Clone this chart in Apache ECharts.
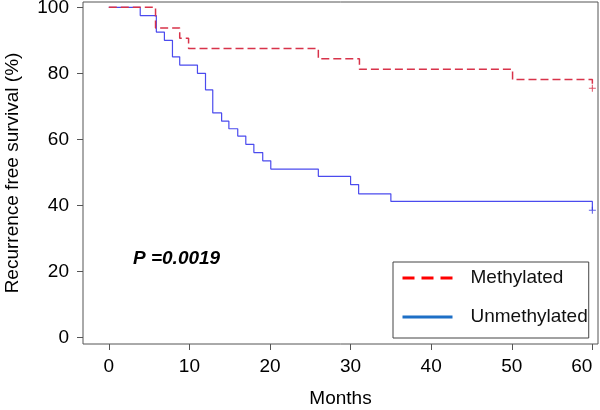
<!DOCTYPE html>
<html>
<head>
<meta charset="utf-8">
<title>Recurrence free survival</title>
<script src="https://cdn.jsdelivr.net/npm/echarts@6/dist/echarts.min.js"></script>
<style>
	html,body{margin:0;padding:0;background:#fff;}
	#main{width:600px;height:410px;}
</style>
</head>
<body>
<div id="main"></div>
<script>
// Kaplan-Meier steps, value = survival (%) after the drop at that month
var metMonths = [0, 5.8, 8.8, 9.9, 26, 31.1, 50.1, 60];
var metSurvival = [100, 93.75, 90.6, 87.5, 84.4, 81.25, 78.1, 75.5];
var unmetMonths = [0, 3.9, 5.9, 6.9, 7.9, 8.8, 11, 12, 12.9, 14, 14.9, 16, 17, 18, 19.1, 20.1, 26, 30, 31, 35, 60];
var unmetSurvival = [100, 97.5, 92.5, 90, 85, 82.5, 80, 75, 68, 65.5, 63.2, 61, 58.5, 56, 53.5, 51, 48.8, 46.3, 43.5, 41.2, 38.5];
var metCensor = [[60, 75.5]];
var unmetCensor = [[60, 38.5]];
var xTicks = [0, 10, 20, 30, 40, 50, 60];
var yTicks = [0, 20, 40, 60, 80, 100];
var seriesNames = ['Methylated', 'Unmethylated'];
var pValueText = 'P =0.0019';

function pairs(xs, ys) {
	var out = [];
	for (var i = 0; i < xs.length; i++) {
		out.push([xs[i], ys[i]]);
	}
	return out;
}

var font = 'Liberation Sans, Arial, Helvetica, sans-serif';
var plusIcon = 'path://M4.25,0h1.5v4.25h4.25v1.5h-4.25v4.25h-1.5v-4.25h-4.25v-1.5h4.25z';

var myChart = echarts.init(document.getElementById('main'));
var option = {
	animation: false,
	backgroundColor: '#fff',
	textStyle: {fontFamily: font},
	title: {
		text: pValueText,
		left: 133,
		top: 249,
		padding: 0,
		textStyle: {fontFamily: font, fontSize: 19, fontWeight: 'bold', fontStyle: 'italic', color: '#000'}
	},
	grid: {
		left: 83,
		right: 2,
		top: 2,
		bottom: 66,
		outerBoundsMode: 'none',
		show: true,
		borderColor: '#555',
		borderWidth: 1
	},
	legend: {
		orient: 'vertical',
		left: 393,
		top: 262,
		padding: [6, 1, 11, 8],
		itemGap: 19,
		itemWidth: 50,
		itemHeight: 14,
		borderColor: '#444',
		borderWidth: 1,
		borderRadius: 0,
		textStyle: {fontFamily: font, fontSize: 19, color: '#111', padding: [0, 0, 0, 13], lineHeight: 20},
		data: [
			{name: seriesNames[0], lineStyle: {color: '#ff0000', width: 3, type: [12, 7]}, itemStyle: {opacity: 0, borderWidth: 0}},
			{name: seriesNames[1], lineStyle: {color: '#1d6fc6', width: 3, type: 'solid'}, itemStyle: {opacity: 0, borderWidth: 0}}
		]
	},
	xAxis: {
		type: 'value',
		min: -3.2,
		max: 60.7,
		name: 'Months',
		nameLocation: 'middle',
		nameGap: 45,
		nameTextStyle: {fontFamily: font, fontSize: 19, color: '#000'},
		axisLine: {show: false, onZero: false},
		axisTick: {show: true, length: 6, customValues: xTicks, lineStyle: {color: '#555'}},
		axisLabel: {customValues: xTicks, margin: 13, alignMaxLabel: 'right', fontFamily: font, fontSize: 19, color: '#000'},
		splitLine: {show: false}
	},
	yAxis: {
		type: 'value',
		min: -2,
		max: 101.6,
		name: 'Recurrence free survival (%)',
		nameLocation: 'middle',
		nameGap: 61,
		nameTextStyle: {fontFamily: font, fontSize: 19, color: '#000'},
		axisLine: {show: false, onZero: false},
		axisTick: {show: true, length: 6, customValues: yTicks, lineStyle: {color: '#555'}},
		axisLabel: {customValues: yTicks, margin: 14, fontFamily: font, fontSize: 19, color: '#000'},
		splitLine: {show: false}
	},
	series: [{
		name: seriesNames[1],
		type: 'line',
		step: 'end',
		symbol: 'none',
		lineStyle: {color: '#4b4bee', width: 1.2},
		itemStyle: {color: '#4b4bee'},
		data: pairs(unmetMonths, unmetSurvival),
		z: 2
	}, {
		name: seriesNames[0],
		type: 'line',
		step: 'end',
		symbol: 'none',
		lineStyle: {color: '#d8334a', width: 1.5, type: [8, 4]},
		itemStyle: {color: '#d8334a'},
		data: pairs(metMonths, metSurvival),
		z: 3
	}, {
		name: 'censor-unmet',
		type: 'scatter',
		symbol: plusIcon,
		symbolSize: 7,
		itemStyle: {color: '#3a3ae0'},
		data: unmetCensor,
		z: 4
	}, {
		name: 'censor-met',
		type: 'scatter',
		symbol: plusIcon,
		symbolSize: 7,
		itemStyle: {color: '#d8334a'},
		data: metCensor,
		z: 4
	}]
};

myChart.setOption(option);
</script>
</body>
</html>
